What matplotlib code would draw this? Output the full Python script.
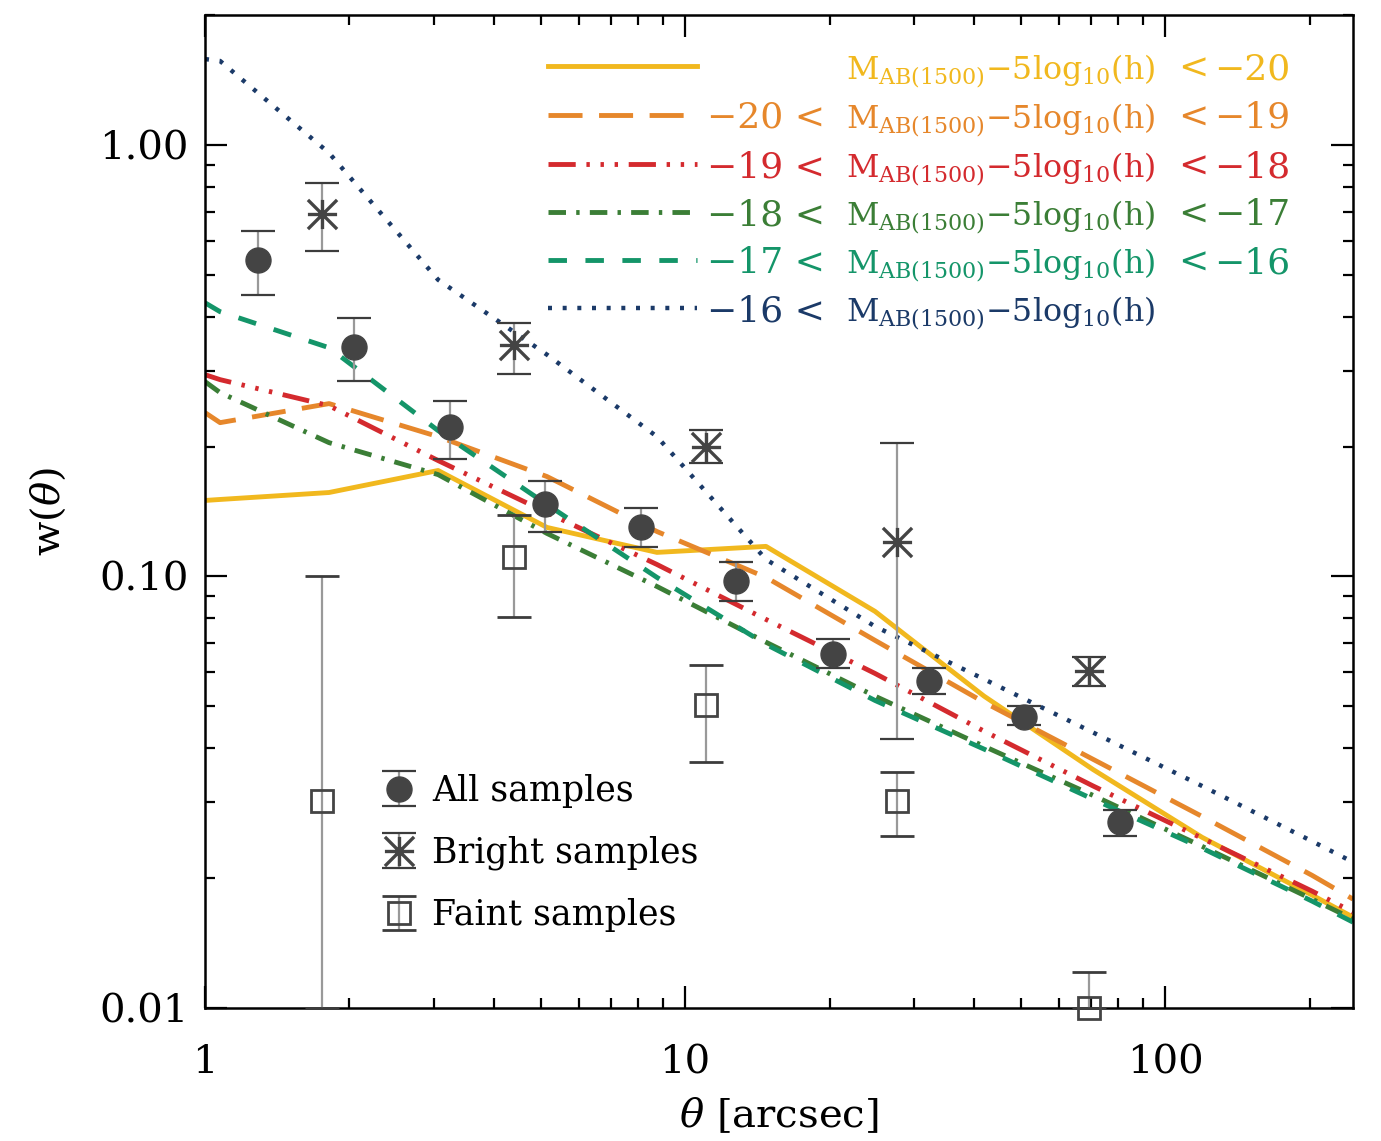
import matplotlib
matplotlib.use('Agg')
import matplotlib.pyplot as plt
import numpy as np
from matplotlib.path import Path
from matplotlib.lines import Line2D
from matplotlib.ticker import NullFormatter

plt.rcParams['font.family'] = 'DejaVu Serif'
plt.rcParams['mathtext.fontset'] = 'dejavuserif'

# model curves (theta in arcsec)
theta_model = [1.0, 1.075, 1.813, 3.059, 5.158, 8.74, 14.75, 24.88, 41.98, 70.8, 119.4, 202.4, 246.4]
w_lt20 = [0.1500, 0.1508, 0.1565, 0.1760, 0.1299, 0.1137, 0.1174, 0.0830, 0.0528, 0.0357, 0.02487, 0.01827, 0.01624]
w_20_19 = [0.2397, 0.2272, 0.2515, 0.2109, 0.1704, 0.1271, 0.0995, 0.0711, 0.0511, 0.0377, 0.0278, 0.0203, 0.01788]
w_19_18 = [0.2935, 0.2858, 0.2487, 0.1856, 0.1406, 0.1066, 0.0795, 0.0596, 0.0438, 0.0327, 0.02474, 0.01866, 0.01668]
w_18_17 = [0.2828, 0.2667, 0.2042, 0.1722, 0.1258, 0.0948, 0.0704, 0.0528, 0.0404, 0.0311, 0.0237, 0.01788, 0.01607]
w_17_16 = [0.4307, 0.4107, 0.3389, 0.2178, 0.1468, 0.0995, 0.0696, 0.0516, 0.0398, 0.03047, 0.02347, 0.01769, 0.01581]
w_gt16 = [1.581, 1.565, 0.958, 0.487, 0.3265, 0.2109, 0.1095, 0.0766, 0.0578, 0.0435, 0.0327, 0.02435, 0.02178]

# measurements
theta_all = [1.29, 2.04, 3.24, 5.11, 8.10, 12.8, 20.3, 32.2, 50.9, 80.6]
w_all = [0.542, 0.341, 0.222, 0.147, 0.130, 0.0974, 0.0660, 0.0571, 0.0472, 0.0270]
lo_all = [0.450, 0.283, 0.187, 0.127, 0.117, 0.0875, 0.0612, 0.0533, 0.0452, 0.0251]
hi_all = [0.632, 0.398, 0.255, 0.166, 0.144, 0.108, 0.0715, 0.0612, 0.0500, 0.0287]

theta_bright = [1.75, 4.40, 11.06, 27.7, 69.4]
w_bright = [0.692, 0.343, 0.200, 0.1205, 0.0603]
lo_bright = [0.568, 0.295, 0.1836, 0.042, 0.0556]
hi_bright = [0.817, 0.387, 0.218, 0.204, 0.065]

theta_faint = [1.75, 4.40, 11.06, 27.7, 69.4]
w_faint = [0.0301, 0.111, 0.0503, 0.0301, 0.0100]
lo_faint = [0.0100, 0.0804, 0.0371, 0.0251, 0.0100]
hi_faint = [0.1000, 0.139, 0.0622, 0.0352, 0.0121]

mag_left = ['', '\u221220 <', '\u221219 <', '\u221218 <', '\u221217 <', '\u221216 <']
mag_right = ['\u221220', '\u221219', '\u221218', '\u221217', '\u221216', '']
colors = ['#F1B81E', '#E6872B', '#D42A2E', '#3B7E36', '#149569', '#1B3A68']
dashes = [None, (7, 3.4), (5.6, 2.2, 0.7, 2.2, 0.7, 2.2, 0.7, 2.2), (3.6, 2.1, 0.7, 2.1), (3.8, 3.8), (0.9, 2.4)]
widths = [3.5, 3.5, 3.5, 3.5, 3.5, 3.2]

fig = plt.figure(figsize=(13.81, 11.41), dpi=100)
ax = fig.add_axes([205/1381, 1 - 1008/1141, 1148/1381, 993/1141])
ax.set_xscale('log')
ax.set_yscale('log')

curves = [w_lt20, w_20_19, w_19_18, w_18_17, w_17_16, w_gt16]
for w, c, d, lw in zip(curves, colors, dashes, widths):
    ln, = ax.plot(theta_model, w, color=c, lw=lw)
    if d is not None:
        ln.set_dashes(d)

# colour legend drawn by hand so the text columns line up
row_y = [66, 115, 164, 212, 260, 308]
mid = r'M$_{\mathrm{AB(1500)}}$$\mathregular{-}$5log$_{10}$(h)'
for i, py in enumerate(row_y):
    yf = (1008 - py) / 993
    ln, = ax.plot([0.2988, 0.4286], [yf, yf], transform=ax.transAxes,
                  color=colors[i], lw=widths[i], clip_on=False)
    if dashes[i] is not None:
        ln.set_dashes(dashes[i])
    yb = (1008 - py - 13) / 993
    ax.text(0.540, yb, mag_left[i], transform=ax.transAxes, ha='right',
            va='baseline', color=colors[i], fontsize=26)
    ax.text(0.5584, yb, mid, transform=ax.transAxes, ha='left',
            va='baseline', color=colors[i], fontsize=22.8)
    if mag_right[i]:
        ax.text(0.8476, yb, '<', transform=ax.transAxes, ha='left',
                va='baseline', color=colors[i], fontsize=26)
        ax.text(0.9451, yb, mag_right[i], transform=ax.transAxes, ha='right',
                va='baseline', color=colors[i], fontsize=26)

# 8-arm asterisk marker
star = Path([(-1, 0), (1, 0), (0, -1), (0, 1), (-1, -1), (1, 1), (-1, 1), (1, -1)],
            [Path.MOVETO, Path.LINETO] * 4)

mk = '#444444'
ecol = '#999999'
capcol = '#3c3c3c'

def err(w, lo, hi):
    w = np.array(w)
    return [w - np.array(lo), np.array(hi) - w]

eb_all = ax.errorbar(theta_all, w_all, yerr=err(w_all, lo_all, hi_all), fmt='o',
                     color=mk, ms=18, ecolor=ecol, elinewidth=1.6, capsize=12,
                     capthick=1.6, zorder=5)
eb_bright = ax.errorbar(theta_bright, w_bright, yerr=err(w_bright, lo_bright, hi_bright),
                        fmt='none', ecolor=ecol, elinewidth=1.6, capsize=12,
                        capthick=1.6, zorder=5)
ax.plot(theta_bright, w_bright, ls='none', marker=star, ms=21, mec=mk, mfc=mk,
        mew=2.4, zorder=6)
eb_faint = ax.errorbar(theta_faint, w_faint, yerr=err(w_faint, lo_faint, hi_faint),
                       fmt='s', color=mk, mfc='none', mec=mk, mew=2.0, ms=16,
                       ecolor=ecol, elinewidth=1.6, capsize=12, capthick=1.6,
                       zorder=5, clip_on=False)
for eb in (eb_all, eb_bright, eb_faint):
    for cl in eb[1]:
        cl.set_color(capcol)
        cl.set_markeredgecolor(capcol)
for a in eb_faint[1] + eb_faint[2]:
    a.set_clip_on(False)

# legend proxy for the asterisk
star_h = Line2D([], [], ls='none', marker=star, ms=21, mec=mk, mfc=mk, mew=2.4)
leg = ax.legend([eb_all, (eb_bright, star_h), eb_faint],
                ['All samples', 'Bright samples', 'Faint samples'],
                loc='lower left', bbox_to_anchor=(0.13, 0.045), frameon=False,
                fontsize=25, handlelength=0.8, handletextpad=0.55,
                labelspacing=0.8)

ax.set_xlim(1, 246.4)
ax.set_ylim(0.01, 2.0)
ax.set_xticks([1, 10, 100], ['1', '10', '100'])
ax.set_yticks([0.01, 0.1, 1.0], ['0.01', '0.10', '1.00'])
ax.xaxis.set_minor_formatter(NullFormatter())
ax.yaxis.set_minor_formatter(NullFormatter())
ax.tick_params(which='both', direction='in', top=True, right=True, width=1.6,
               labelsize=29)
ax.tick_params(which='major', length=16)
ax.tick_params(which='minor', length=7.5)
ax.tick_params(axis='x', pad=26)
ax.tick_params(axis='y', pad=12)
for s in ax.spines.values():
    s.set_linewidth(1.8)

ax.set_xlabel(r'$\theta$ [arcsec]', fontsize=29, labelpad=10)
ax.set_ylabel(r'w($\theta$)', fontsize=29, labelpad=22)

fig.savefig('out.png', dpi=100)
